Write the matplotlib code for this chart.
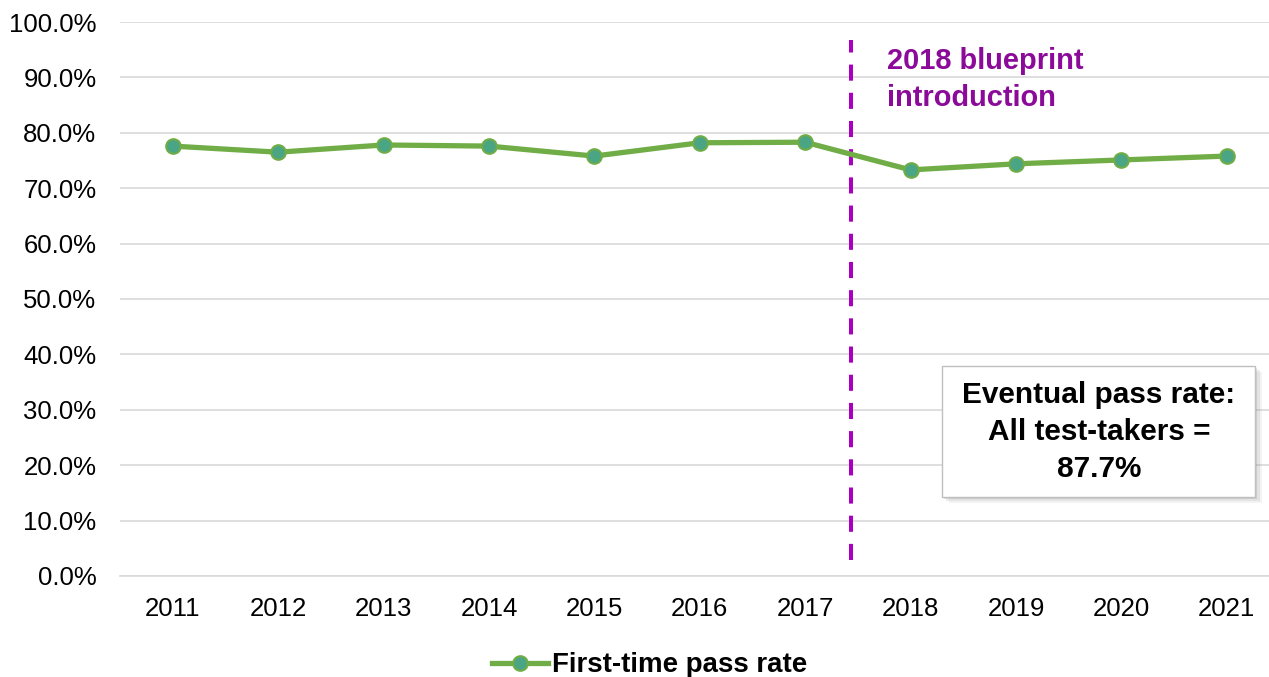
import matplotlib
matplotlib.use("Agg")
import matplotlib.pyplot as plt
from matplotlib.ticker import FuncFormatter
from matplotlib.patches import Rectangle

years = ["2011", "2012", "2013", "2014", "2015", "2016", "2017", "2018", "2019", "2020", "2021"]
pass_rate = [77.6, 76.5, 77.8, 77.6, 75.8, 78.2, 78.3, 73.3, 74.4, 75.1, 75.8]
eventual_rate = 87.7
blueprint_pos = 6.43

plt.rcParams['font.family'] = ['Liberation Sans', 'DejaVu Sans']

fig = plt.figure(figsize=(12.69, 6.77), dpi=100)
ax = fig.add_axes([0.0946, 0.1492, 0.9054, 0.8183])

x = range(len(years))
ax.plot(x, pass_rate, '-o', color='#70AD47', linewidth=3.8, markersize=10.5,
        markerfacecolor='#4AA584', markeredgecolor='#70AD47', markeredgewidth=1.5,
        label='First-time pass rate', zorder=4)

ax.set_ylim(0, 100)
ax.set_yticks(range(0, 101, 10))
ax.yaxis.set_major_formatter(FuncFormatter(lambda v, p: f"{v:.1f}%"))
ax.set_xlim(-0.5, 10.4)
ax.set_xticks(list(x))
ax.set_xticklabels(years)
ax.tick_params(axis='both', length=0, labelsize=18.5, colors='#000000')
ax.tick_params(axis='x', pad=15)
ax.tick_params(axis='y', pad=17)

ax.grid(axis='y', color='#D9D9D9', linewidth=1.2)
ax.set_axisbelow(True)
for s in ['top', 'right', 'left']:
    ax.spines[s].set_visible(False)
ax.spines['bottom'].set_color('#D9D9D9')
ax.spines['bottom'].set_linewidth(1.2)

# blueprint line + label
ax.plot([blueprint_pos, blueprint_pos], [2.8, 96.8], color='#A800BE', linewidth=2.9,
        linestyle=(0, (4, 3)), zorder=3)
ax.text(6.78, 95.5, "2018 blueprint\nintroduction", color='#8B0A99', fontsize=20.9,
        fontweight='bold', va='top', ha='left', linespacing=1.42)

# eventual pass rate box with soft shadow
bx0, bx1, by0, by1 = 7.30, 10.27, 14.3, 37.9
for i, a in enumerate([0.08, 0.12, 0.18]):
    k = 3 - i
    ax.add_patch(Rectangle((bx0 + 0.02 * k, by0 - 0.36 * k), bx1 - bx0, by1 - by0,
                           facecolor='#707070', edgecolor='none', alpha=a, zorder=5))
ax.add_patch(Rectangle((bx0, by0), bx1 - bx0, by1 - by0, facecolor='white',
                       edgecolor='#BFBFBF', linewidth=1, zorder=6))
ax.text((bx0 + bx1) / 2, 26.0, f"Eventual pass rate:\nAll test-takers =\n{eventual_rate}%",
        ha='center', va='center', fontsize=21.4, fontweight='bold', linespacing=1.42,
        zorder=7)

leg = fig.legend(loc='center', bbox_to_anchor=(0.512, 0.017), frameon=False,
                 fontsize=19.9, handlelength=2.0, handletextpad=0.15)
for t in leg.get_texts():
    t.set_fontweight('bold')

fig.savefig("out.png", dpi=100, facecolor='white')
